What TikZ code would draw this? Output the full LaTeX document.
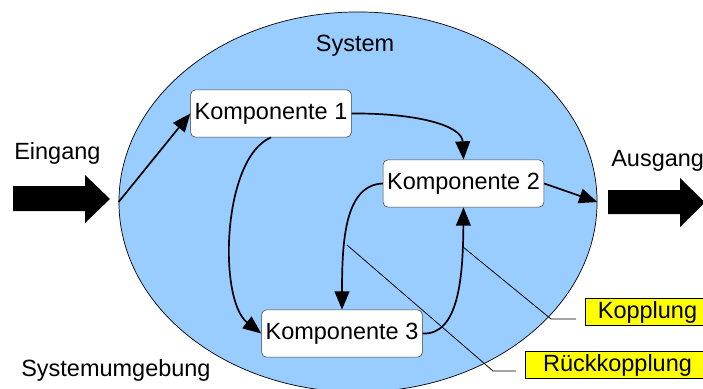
\documentclass[tikz,border=0pt]{standalone}
\usepackage{fontspec}
\setmainfont{Liberation Sans}
\usepackage{tikz}
\usetikzlibrary{shapes,arrows.meta}
\definecolor{hellblau}{HTML}{99CCFF}
\definecolor{markgelb}{HTML}{FFFF00}

\begin{document}
\begin{tikzpicture}[x=0.025cm,y=-0.025cm,font=\fontsize{16.7}{19}\selectfont,
		komp/.style={shape=rectangle,draw=black!75,fill=white,rounded corners=0.12cm,minimum width=4cm,minimum height=1.18cm,inner sep=0.1cm},
		marke/.style={shape=rectangle,draw=black,line width=0.6pt,fill=markgelb,minimum height=0.68cm,inner sep=0.05cm},
		pfeil/.style={line width=1.2pt,-{Triangle[length=13pt,width=10.5pt]}},
		hinweis/.style={line width=0.55pt,draw=black}]
		\useasboundingbox (0,0) rectangle (703,388);
		\node(sys) at (358,202) [shape=ellipse,draw,fill=hellblau,line width=0.5pt,minimum width=11.95cm,minimum height=9.5cm,inner sep=0] {};
		\node(systxt) at (355,51.5) [anchor=base,inner sep=0] {System};
		\node(k1) at (271,113.5) [komp] {Komponente 1};
		\node(k2) at (463.5,183.5) [komp] {Komponente 2};
		\node(k3) at (342,333.5) [komp] {Komponente 3};
		\node(ein) at (14,159.5) [anchor=base west,inner sep=0] {Eingang};
		\node(aus) at (611,166.5) [anchor=base west,inner sep=0] {Ausgang};
		\node(umg) at (21,376.5) [anchor=base west,inner sep=0] {Systemumgebung};
		\node(kopp) at (647.5,312) [marke,minimum width=3.125cm] {Kopplung};
		\node(rueck) at (617.5,365) [marke,minimum width=4.625cm] {Rückkopplung};
		\fill (13,186) -- (85,186) -- (85,175) -- (110,199) -- (85,223) -- (85,211) -- (13,211) -- cycle;
		\fill (608,190) -- (680,190) -- (680,178) -- (705,202.5) -- (680,227) -- (680,214) -- (608,214) -- cycle;
		\path[pfeil]
			(sys.west) edge (k1.west)
			(k2.east) edge (sys.east);
		\draw[pfeil] (k1.east) .. controls (415,113) and (462,125) .. (k2.north);
		\draw[pfeil] (k1.south) .. controls (222,158) and (218,300) .. (k3.west);
		\draw[pfeil] (k2.west) .. controls (345,185) and (342,240) .. (k3.north);
		\draw[pfeil] (k3.east) .. controls (458,335) and (463,280) .. (k2.south);
		\coordinate(kp) at (463,247);
		\coordinate(kpende) at (576,319);
		\coordinate(rk) at (347,245);
		\coordinate(rkende) at (516,371);
		\draw[hinweis] (kp) -- (551,319) -- (kpende);
		\draw[hinweis] (rk) -- (493,371) -- (rkende);
	\end{tikzpicture}
\end{document}
